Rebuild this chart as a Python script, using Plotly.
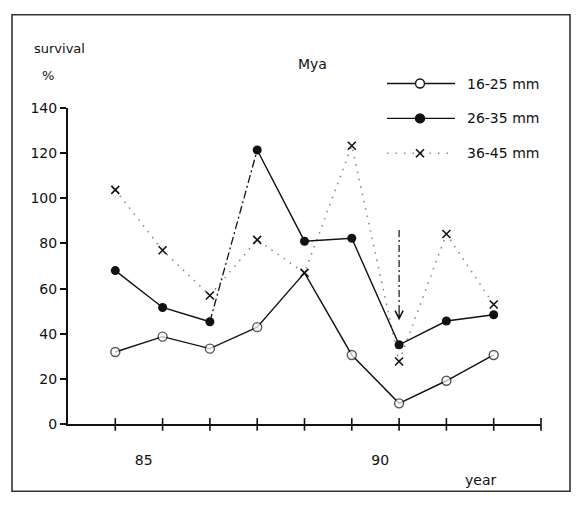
import plotly.graph_objects as go

# Survival of Mya by shell-length class, per year
seasons = [1984, 1985, 1986, 1987, 1988, 1989, 1990, 1991, 1992]
surv_16_25 = [32, 38.8, 33.5, 43, 67, 30.7, 9.3, 19.3, 30.7]
surv_26_35 = [68, 51.7, 45.4, 121.3, 81, 82.3, 35.2, 45.7, 48.5]
surv_36_45 = [103.7, 77, 57, 81.6, 67, 123.2, 27.8, 84.2, 53]
size_classes = ["16-25 mm", "26-35 mm", "36-45 mm"]
year_labels = ["85", "90"]
year_label_years = [1985, 1990]
y_ticks = [0, 20, 40, 60, 80, 100, 120, 140]

W, H = 576, 506
FONT = "DejaVu Sans"
INK = "#111111"
DOT = "#8a8a8a"


def fx(p):
    return p / W


def fy(p):
    return 1 - p / H


# plot-area placement (pixels)
L, R, T, B = 68, 541, 103, 430
x_lo, x_hi = seasons[0] - 1, seasons[-1] + 1

fig = go.Figure()

# 36-45 mm: sparse dotted line with crosses
fig.add_trace(go.Scatter(
    x=seasons, y=surv_36_45, mode="lines",
    line=dict(color=DOT, width=1.6, dash="1.5px,6px"), hoverinfo="skip"))

# 26-35 mm: solid, with the 1986-87 step dash-dotted
fig.add_trace(go.Scatter(
    x=seasons[:3], y=surv_26_35[:3], mode="lines",
    line=dict(color=INK, width=1.4)))
fig.add_trace(go.Scatter(
    x=seasons[2:4], y=surv_26_35[2:4], mode="lines",
    line=dict(color=INK, width=1.3, dash="8px,3px,2px,3px")))
fig.add_trace(go.Scatter(
    x=seasons[3:], y=surv_26_35[3:], mode="lines",
    line=dict(color=INK, width=1.4)))
fig.add_trace(go.Scatter(
    x=seasons, y=surv_26_35, mode="markers",
    marker=dict(symbol="circle", size=9, color=INK)))

# 16-25 mm: solid with open circles (hidden where a cross sits on it)
open_sizes = [0 if abs(a - b) < 1 else 9 for a, b in zip(surv_16_25, surv_36_45)]
fig.add_trace(go.Scatter(
    x=seasons, y=surv_16_25, mode="lines+markers",
    line=dict(color=INK, width=1.4),
    marker=dict(symbol="circle", size=open_sizes, color="white",
                line=dict(color=INK, width=1.4))))

fig.add_trace(go.Scatter(
    x=seasons, y=surv_36_45, mode="markers",
    marker=dict(symbol="x-thin", size=8, line=dict(color=INK, width=1.6))))

# x-axis tick marks crossing the axis line
tick_years = list(range(seasons[0], seasons[-1] + 2))
fig.add_trace(go.Scatter(
    x=tick_years, y=[0] * len(tick_years), mode="markers", cliponaxis=False,
    marker=dict(symbol="line-ns", size=9, line=dict(color=INK, width=1.6))))

# legend samples on a full-page pixel subplot
legend_rows = [78, 114, 150]
lx0, lx1, lxm = 387, 455, 420
for row, style in zip(legend_rows, ["open", "filled", "cross"]):
    if style == "cross":
        fig.add_trace(go.Scatter(
            x=[lx0, lx1], y=[row, row], mode="lines", xaxis="x2", yaxis="y2",
            line=dict(color=DOT, width=1.6, dash="1.5px,7px")))
        fig.add_trace(go.Scatter(
            x=[lxm], y=[row], mode="markers", xaxis="x2", yaxis="y2",
            marker=dict(symbol="x-thin", size=8, line=dict(color=INK, width=1.6))))
    else:
        fig.add_trace(go.Scatter(
            x=[lx0, lx1], y=[row, row], mode="lines", xaxis="x2", yaxis="y2",
            line=dict(color=INK, width=1.4)))
        fig.add_trace(go.Scatter(
            x=[lxm], y=[row], mode="markers", xaxis="x2", yaxis="y2",
            marker=dict(symbol="circle", size=9,
                        color="white" if style == "open" else INK,
                        line=dict(color=INK, width=1.4))))

annotations = []
for row, name in zip(legend_rows, size_classes):
    annotations.append(dict(x=fx(465), y=fy(row), xref="paper", yref="paper",
                            text=name, showarrow=False, xanchor="left",
                            yanchor="middle", font=dict(size=14, color=INK)))

annotations += [
    dict(x=fx(312), y=fy(58), xref="paper", yref="paper", text="Mya",
         showarrow=False, xanchor="center", yanchor="middle",
         font=dict(size=14, color=INK)),
    dict(x=fx(32), y=fy(42), xref="paper", yref="paper", text="survival",
         showarrow=False, xanchor="left", yanchor="middle",
         font=dict(size=13, color=INK)),
    dict(x=fx(48), y=fy(70), xref="paper", yref="paper", text="%",
         showarrow=False, xanchor="center", yanchor="middle",
         font=dict(size=13, color=INK)),
    dict(x=fx(480), y=fy(487), xref="paper", yref="paper", text="year",
         showarrow=False, xanchor="center", yanchor="middle",
         font=dict(size=14, color=INK)),
    # arrowhead at the bottom of the 1990 marker
    dict(x=seasons[6], y=46, xref="x", yref="y", ax=0, ay=-10,
         showarrow=True, arrowhead=5, arrowsize=1.3, arrowwidth=1.2,
         arrowcolor=INK, text=""),
]

shapes = [
    # vertical dash-dotted pointer above the 1990 values
    dict(type="line", xref="x", yref="y", x0=seasons[6], x1=seasons[6],
         y0=86, y1=47, line=dict(color=INK, width=1.2, dash="7px,3px,2px,3px")),
    # outer frame
    dict(type="rect", xref="paper", yref="paper", x0=fx(12), x1=fx(570),
         y0=fy(499), y1=fy(7), line=dict(color="#333333", width=1.6)),
]

fig.update_layout(
    width=W, height=H,
    margin=dict(l=0, r=0, t=0, b=0),
    paper_bgcolor="white", plot_bgcolor="rgba(0,0,0,0)",
    showlegend=False,
    font=dict(family=FONT, color=INK),
    xaxis=dict(domain=[fx(L), fx(R)], range=[x_lo, x_hi],
               tickvals=[y - 0.4 for y in year_label_years], ticktext=year_labels,
               ticks="", ticklabelstandoff=22,
               showline=True, linecolor=INK, linewidth=2, showgrid=False,
               zeroline=False, tickfont=dict(size=14, color=INK), anchor="y"),
    yaxis=dict(domain=[1 - B / H, 1 - T / H], range=[0, 140],
               tickvals=y_ticks, ticks="outside", ticklen=6, tickwidth=1.6,
               tickcolor=INK, showline=True, linecolor=INK, linewidth=2,
               showgrid=False, zeroline=False,
               tickfont=dict(size=14, color=INK), anchor="x"),
    xaxis2=dict(domain=[0, 1], range=[0, W], visible=False, anchor="y2"),
    yaxis2=dict(domain=[0, 1], range=[H, 0], visible=False, anchor="x2"),
    annotations=annotations,
    shapes=shapes,
)

fig.write_html("out.html")
